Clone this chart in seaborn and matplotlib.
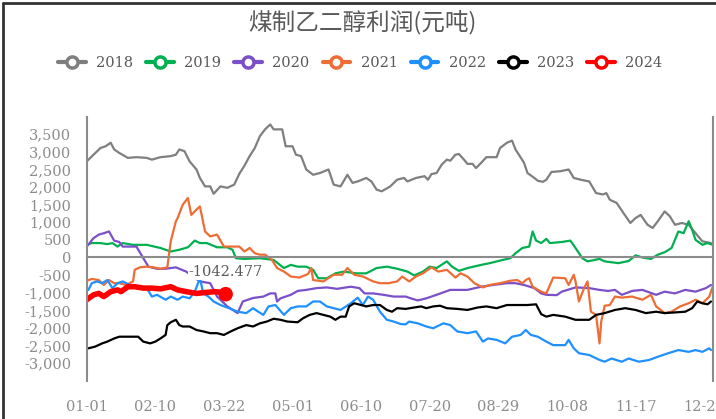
import matplotlib
matplotlib.use('Agg')
import pandas as pd
import matplotlib.pyplot as plt
import seaborn as sns
from matplotlib.lines import Line2D

# day-of-year positions and profit values (yuan/ton)
day_2018 = [0, 4, 8, 11, 14, 16, 19, 24, 29, 35, 38, 43, 49, 52, 54, 57, 60, 64, 66, 69, 72, 74, 78, 82, 86,
            89, 92, 95, 98, 101, 104, 107, 109, 114, 116, 120, 122, 125, 128, 132, 136, 141, 144, 148, 152,
            155, 158, 163, 166, 169, 172, 177, 181, 185, 187, 192, 197, 199, 201, 204, 207, 210, 212, 215,
            217, 220, 222, 225, 227, 230, 233, 239, 241, 245, 248, 250, 252, 255, 257, 261, 263, 266, 268,
            271, 276, 281, 284, 288, 293, 297, 301, 303, 305, 309, 313, 317, 320, 323, 327, 330, 333, 337,
            340, 343, 347, 351, 355, 359, 364]
val_2018 = [2730, 2920, 3110, 3160, 3260, 3070, 2970, 2830, 2850, 2830, 2780, 2850, 2880, 2920, 3070, 3020,
            2730, 2500, 2260, 2020, 2020, 1810, 2020, 1980, 2070, 2380, 2610, 2880, 3110, 3450, 3640, 3780,
            3640, 3640, 3160, 3160, 2920, 2880, 2500, 2350, 2400, 2500, 2070, 2020, 2350, 2120, 2160, 2260,
            2160, 1930, 1880, 2020, 2210, 2260, 2160, 2260, 2310, 2210, 2370, 2400, 2640, 2780, 2750, 2920,
            2940, 2780, 2660, 2660, 2540, 2690, 2850, 2850, 3110, 3260, 3320, 3070, 2920, 2690, 2400, 2260,
            2180, 2150, 2210, 2430, 2450, 2500, 2260, 2210, 2160, 1830, 1790, 1830, 1640, 1550, 1260, 980,
            1120, 1210, 930, 840, 1030, 1310, 1170, 930, 980, 930, 690, 460, 410]

day_2019 = [0, 3, 8, 12, 15, 18, 21, 27, 35, 43, 49, 54, 59, 63, 66, 70, 76, 82, 85, 87, 92, 101, 109, 115,
            119, 123, 128, 132, 135, 140, 145, 150, 157, 163, 169, 175, 181, 187, 191, 196, 200, 204, 210,
            213, 217, 222, 230, 235, 240, 247, 250, 254, 258, 260, 262, 265, 268, 270, 277, 282, 285, 289,
            292, 299, 302, 310, 316, 320, 324, 329, 333, 337, 341, 345, 348, 351, 353, 355, 359, 362, 365]
val_2019 = [360, 410, 410, 380, 410, 310, 410, 360, 360, 270, 170, 220, 290, 480, 410, 410, 290, 290, 220,
            -20, -40, -20, -70, -300, -210, -260, -260, -350, -590, -590, -450, -400, -450, -450, -300, -260,
            -320, -400, -510, -400, -260, -300, -110, -260, -380, -300, -210, -160, -100, -20, 120, 270, 310,
            740, 480, 410, 530, 410, 440, 480, 270, -20, -110, -40, -110, -160, -100, 60, 0, -40, 80, 150,
            270, 740, 690, 1030, 790, 500, 360, 410, 360]

day_2020 = [0, 4, 7, 10, 13, 16, 19, 21, 29, 33, 36, 41, 46, 52, 54, 58, 66, 72, 76, 82, 88, 91, 97, 103,
            107, 110, 111, 113, 119, 123, 128, 134, 140, 146, 154, 159, 162, 167, 173, 179, 186, 189, 193,
            198, 204, 212, 222, 230, 237, 245, 250, 255, 261, 265, 268, 274, 277, 285, 293, 299, 304, 308,
            312, 318, 324, 332, 337, 343, 349, 355, 361, 364]
val_2020 = [310, 550, 650, 690, 740, 480, 440, 310, 310, -20, -260, -320, -320, -280, -320, -400, -680, -730,
            -1110, -1390, -1580, -1250, -1150, -1110, -1020, -1020, -1250, -1160, -1060, -950, -920, -870,
            -850, -890, -830, -870, -1020, -1020, -1060, -1110, -1110, -1160, -1220, -1160, -1060, -920,
            -920, -830, -780, -730, -730, -780, -870, -1020, -1060, -1070, -970, -850, -870, -920, -950,
            -920, -1060, -950, -920, -1060, -970, -1020, -920, -970, -870, -780]

day_2021 = [0, 3, 7, 10, 13, 16, 19, 23, 27, 28, 31, 35, 39, 43, 47, 49, 52, 53, 56, 59, 61, 64, 66, 69, 72,
            76, 80, 84, 89, 92, 95, 98, 101, 104, 108, 111, 115, 119, 124, 129, 131, 132, 138, 144, 149, 152,
            156, 161, 167, 171, 176, 181, 184, 188, 192, 196, 201, 205, 210, 215, 218, 222, 226, 231, 235,
            241, 247, 251, 254, 256, 258, 260, 265, 268, 272, 279, 281, 284, 285, 287, 290, 292, 294, 297,
            299, 300, 302, 305, 308, 312, 318, 324, 329, 332, 337, 341, 346, 351, 355, 359, 363, 365]
val_2021 = [-660, -610, -640, -780, -640, -730, -730, -780, -680, -350, -280, -260, -280, -320, -280, 460,
            1030, 1120, 1500, 1690, 1210, 1360, 1450, 740, 600, 650, 310, 310, 310, 170, 270, 120, 80, 80,
            -70, -300, -400, -540, -570, -470, -300, -640, -680, -490, -490, -300, -490, -540, -680, -730,
            -730, -680, -540, -680, -540, -450, -280, -400, -350, -570, -450, -540, -730, -850, -780, -730,
            -660, -640, -730, -640, -590, -830, -970, -1020, -570, -590, -780, -490, -680, -1250, -870,
            -680, -1540, -1630, -2440, -1820, -1370, -1350, -1110, -1140, -1110, -1200, -1060, -1390,
            -1580, -1540, -1390, -1300, -1200, -1300, -1110, -830]

day_2022 = [1, 3, 6, 9, 12, 15, 18, 21, 25, 29, 35, 38, 41, 46, 49, 53, 56, 60, 63, 66, 68, 71, 74, 78, 83,
            88, 93, 97, 100, 103, 106, 110, 115, 119, 123, 128, 132, 136, 140, 144, 148, 154, 158, 161, 164,
            167, 171, 175, 179, 183, 186, 188, 193, 198, 202, 208, 212, 216, 222, 227, 231, 234, 239, 244,
            248, 253, 256, 259, 263, 268, 272, 279, 281, 284, 287, 293, 299, 302, 306, 312, 316, 322, 328,
            333, 339, 345, 351, 355, 359, 363, 364]
val_2022 = [-920, -730, -680, -730, -640, -870, -730, -680, -780, -870, -870, -1110, -1060, -1200, -1110,
            -1200, -1110, -1160, -970, -590, -1020, -1110, -1250, -1350, -1440, -1540, -1580, -1440, -1540,
            -1630, -1390, -1350, -1630, -1440, -1390, -1390, -1250, -1250, -1390, -1440, -1490, -1300,
            -1140, -1350, -1110, -1200, -1540, -1770, -1820, -1890, -1900, -1820, -1870, -1960, -2010,
            -1870, -1920, -2100, -2150, -2100, -2390, -2300, -2340, -2440, -2250, -2200, -2060, -2200,
            -2250, -2390, -2490, -2490, -2340, -2580, -2720, -2770, -2910, -2960, -2870, -2960, -2870,
            -2960, -2910, -2820, -2720, -2630, -2680, -2630, -2680, -2580, -2630]

day_2023 = [1, 5, 9, 12, 16, 19, 25, 30, 33, 37, 40, 43, 46, 47, 49, 52, 54, 56, 60, 64, 68, 72, 76, 80, 84,
            88, 93, 97, 101, 105, 109, 113, 117, 123, 126, 130, 134, 138, 142, 145, 148, 151, 153, 156, 160,
            163, 167, 171, 175, 178, 181, 186, 191, 195, 198, 202, 206, 210, 216, 222, 228, 233, 239, 245,
            251, 257, 262, 265, 268, 272, 279, 285, 293, 297, 302, 308, 314, 320, 326, 332, 337, 343, 349,
            353, 356, 359, 362, 364]
val_2023 = [-2580, -2530, -2440, -2390, -2300, -2250, -2250, -2250, -2390, -2440, -2390, -2300, -2200, -1920,
            -1840, -1770, -1920, -1960, -1960, -2060, -2100, -2150, -2150, -2200, -2100, -2010, -1920, -1960,
            -1870, -1820, -1740, -1770, -1820, -1840, -1730, -1630, -1580, -1630, -1680, -1770, -1680,
            -1680, -1390, -1300, -1350, -1390, -1350, -1350, -1490, -1540, -1440, -1460, -1420, -1390,
            -1440, -1390, -1370, -1440, -1460, -1490, -1420, -1390, -1440, -1350, -1350, -1350, -1330,
            -1610, -1680, -1630, -1680, -1770, -1770, -1630, -1580, -1490, -1440, -1490, -1580, -1540,
            -1580, -1560, -1540, -1440, -1250, -1300, -1330, -1250]

day_2024 = [0, 4, 7, 10, 14, 18, 20, 24, 28, 33, 38, 43, 49, 53, 58, 64, 70, 75, 78, 81]
val_2024 = [-1200, -1060, -1020, -1110, -970, -920, -970, -830, -830, -870, -870, -890, -830, -920, -970,
            -1020, -990, -970, -990, -1042.477]

years = ['2018', '2019', '2020', '2021', '2022', '2023', '2024']
series_days = [day_2018, day_2019, day_2020, day_2021, day_2022, day_2023, day_2024]
series_vals = [val_2018, val_2019, val_2020, val_2021, val_2022, val_2023, val_2024]
colors = ['#7f7f7f', '#00b050', '#7b4fc9', '#ed6d35', '#1e90ff', '#000000', '#ff0000']

tick_days = [0, 40, 80, 120, 160, 200, 240, 280, 320, 360]
tick_labels = ['01-01', '02-10', '03-22', '05-01', '06-10', '07-20', '08-29', '10-08', '11-17', '12-27']
y_ticks = [-3000, -2500, -2000, -1500, -1000, -500, 0, 500, 1000, 1500, 2000, 2500, 3000, 3500]

df = pd.concat([pd.DataFrame({'day': d, 'value': v, 'year': y})
                for y, d, v in zip(years, series_days, series_vals)], ignore_index=True)

sns.set_style('white')
plt.rcParams['font.family'] = ['DejaVu Serif']

axis_grey = '#8c8c8c'
text_grey = '#595959'

fig = plt.figure(figsize=(7.16, 4.19), dpi=100)
ax = fig.add_axes([0.1211, 0.0914, 0.8743, 0.6301])

sns.lineplot(data=df, x='day', y='value', hue='year', size='year',
             sizes={y: (4.0 if y == '2024' else 1.6) for y in years},
             palette=dict(zip(years, colors)), sort=False, estimator=None,
             legend=False, ax=ax)
sns.scatterplot(x=[day_2024[-1]], y=[val_2024[-1]], color='#ff0000', s=110,
                edgecolor='none', zorder=5, ax=ax)
ax.annotate(f'{val_2024[-1]}', xy=(day_2024[-1], val_2024[-1]), xytext=(0, 16),
            textcoords='offset points', ha='center', va='center', fontsize=10.5,
            color=text_grey, bbox=dict(facecolor='white', edgecolor='none', pad=0.5))

ax.set_xlim(0, 365)
ax.set_ylim(-3500, 4000)
ax.set_xlabel('')
ax.set_ylabel('')

# y axis: labels only
ax.set_yticks(y_ticks, labels=[f'{v:,}' for v in y_ticks])
ax.tick_params(axis='y', length=0, pad=11, labelsize=10.5, labelcolor=axis_grey)

# x axis line sits at zero with tick marks; labels go to the bottom
ax.spines['bottom'].set_position(('data', 0))
ax.set_xticks(tick_days)
ax.tick_params(axis='x', direction='out', length=6, width=1.5, color=axis_grey, labelbottom=False)
sec = ax.secondary_xaxis('bottom')
sec.set_xticks(tick_days, labels=tick_labels)
sec.tick_params(length=0, pad=14, labelsize=10.5, labelcolor=axis_grey)
sec.spines['bottom'].set_visible(False)

for side in ['left', 'right', 'bottom']:
    ax.spines[side].set_color(axis_grey)
    ax.spines[side].set_linewidth(1.5)
ax.spines['top'].set_visible(False)

fig.text(0.5056, 0.9475, '煤制乙二醇利润(元吨)', ha='center', va='center', fontsize=17,
         color=text_grey, family=['Noto Sans CJK SC', 'DejaVu Sans'])

handles = [Line2D([], [], color=c, lw=3, marker='o', markersize=8, markerfacecolor='white',
                  markeredgewidth=2.5) for c in colors]
fig.legend(handles, years, ncol=7, loc='center', bbox_to_anchor=(0.503, 0.85), frameon=False,
           handlelength=1.9, handletextpad=0.7, columnspacing=0.9, fontsize=10.5,
           labelcolor=text_grey)

# outer frame (left and top edges)
fig.add_artist(Line2D([0.0035, 0.0035], [0, 0.992], transform=fig.transFigure, color='#333333', lw=2))
fig.add_artist(Line2D([0.0035, 1], [0.992, 0.992], transform=fig.transFigure, color='#333333', lw=2))

fig.savefig('out.png', dpi=100)
